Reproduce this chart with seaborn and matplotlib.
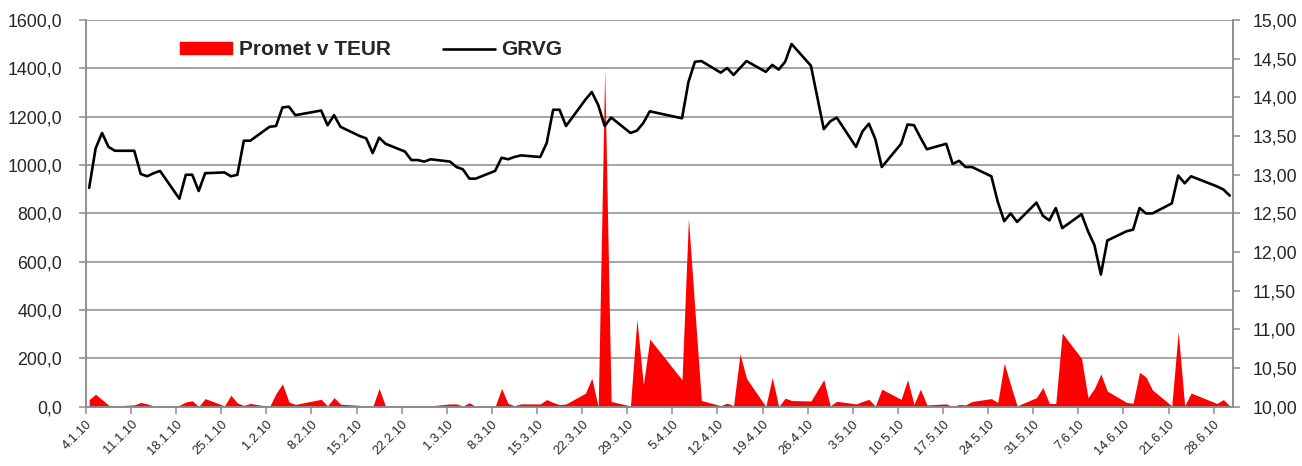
import pandas as pd
import numpy as np
import matplotlib
matplotlib.use('Agg')
import matplotlib.pyplot as plt
from matplotlib.ticker import FuncFormatter, MultipleLocator
from matplotlib.patches import Patch
from matplotlib.lines import Line2D
import seaborn as sns

# trading days (d.m. in 2010)
dates = ['4.1', '5.1', '6.1', '7.1', '8.1', '11.1', '12.1', '13.1', '14.1', '15.1',
         '18.1', '19.1', '20.1', '21.1', '22.1', '25.1', '26.1', '27.1', '28.1', '29.1',
         '1.2', '2.2', '3.2', '4.2', '5.2', '9.2', '10.2', '11.2', '12.2', '15.2',
         '16.2', '17.2', '18.2', '19.2', '22.2', '23.2', '24.2', '25.2', '26.2', '1.3',
         '2.3', '3.3', '4.3', '5.3', '8.3', '9.3', '10.3', '11.3', '12.3', '15.3',
         '16.3', '17.3', '18.3', '19.3', '22.3', '23.3', '24.3', '25.3', '26.3', '29.3',
         '30.3', '31.3', '1.4', '6.4', '7.4', '8.4', '9.4', '12.4', '13.4', '14.4',
         '15.4', '16.4', '19.4', '20.4', '21.4', '22.4', '23.4', '26.4', '28.4', '29.4',
         '30.4', '3.5', '4.5', '5.5', '6.5', '7.5', '10.5', '11.5', '12.5', '13.5',
         '14.5', '17.5', '18.5', '19.5', '20.5', '21.5', '24.5', '25.5', '26.5', '27.5',
         '28.5', '31.5', '1.6', '2.6', '3.6', '4.6', '7.6', '8.6', '9.6', '10.6',
         '11.6', '14.6', '15.6', '16.6', '17.6', '18.6', '21.6', '22.6', '23.6', '24.6',
         '28.6', '29.6', '30.6']

# closing price GRVG (right axis)
grvg = [12.83, 13.34, 13.54, 13.36, 13.31, 13.31, 13.01, 12.98, 13.02, 13.05,
        12.69, 13.00, 13.00, 12.79, 13.02, 13.03, 12.98, 13.00, 13.44, 13.44,
        13.62, 13.63, 13.87, 13.88, 13.77, 13.83, 13.64, 13.77, 13.62, 13.50,
        13.47, 13.28, 13.48, 13.40, 13.30, 13.19, 13.19, 13.17, 13.20, 13.17,
        13.10, 13.07, 12.95, 12.95, 13.05, 13.22, 13.20, 13.23, 13.25, 13.23,
        13.41, 13.84, 13.84, 13.63, 13.97, 14.07, 13.90, 13.63, 13.74, 13.54,
        13.57, 13.67, 13.82, 13.73, 14.20, 14.46, 14.47, 14.32, 14.38, 14.29,
        14.38, 14.47, 14.33, 14.42, 14.36, 14.46, 14.69, 14.41, 13.59, 13.69,
        13.74, 13.36, 13.56, 13.66, 13.46, 13.10, 13.40, 13.65, 13.64, 13.48,
        13.33, 13.40, 13.14, 13.18, 13.10, 13.10, 12.98, 12.65, 12.40, 12.50,
        12.39, 12.64, 12.47, 12.41, 12.57, 12.31, 12.49, 12.27, 12.09, 11.71,
        12.15, 12.27, 12.29, 12.57, 12.50, 12.50, 12.63, 12.99, 12.89, 12.98,
        12.85, 12.81, 12.73]

# turnover in thousand EUR (left axis)
promet = [30, 52, 30, 7, 4, 8, 18, 12, 4, 4,
          6, 20, 25, 1, 34, 4, 48, 16, 6, 14,
          1, 55, 95, 20, 10, 31, 4, 38, 11, 6,
          4, 0, 76, 1, 3, 4, 5, 3, 4, 12,
          12, 3, 17, 1, 1, 76, 14, 5, 12, 12,
          30, 18, 9, 12, 56, 118, 0, 1395, 22, 4,
          362, 91, 280, 112, 780, 400, 26, 5, 15, 5,
          219, 118, 1, 121, 1, 36, 26, 24, 112, 4,
          23, 12, 22, 31, 3, 73, 31, 112, 10, 73,
          8, 12, 1, 10, 8, 22, 34, 18, 180, 90,
          4, 38, 80, 14, 14, 305, 200, 38, 76, 136,
          65, 18, 15, 143, 123, 70, 4, 311, 4, 57,
          14, 30, 4]

df = pd.DataFrame({
    'datum': pd.to_datetime([d + '.2010' for d in dates], format='%d.%m.%Y') + pd.Timedelta(hours=12),
    'GRVG': grvg,
    'Promet': promet,
})

sns.set_style('white')
plt.rcParams['font.family'] = ['Liberation Sans', 'DejaVu Sans']

fig, ax = plt.subplots(figsize=(13.02, 4.66), dpi=100)
fig.subplots_adjust(left=0.066, right=0.947, top=0.957, bottom=0.127)
ax2 = ax.twinx()

grid_col = '#8c8c8c'

# area - Promet v TEUR
ax.fill_between(df['datum'], df['Promet'], 0, color='#ff0000', lw=0, zorder=2)
ax.set_ylim(0, 1600)
ax.yaxis.set_major_locator(MultipleLocator(200))
ax.yaxis.set_major_formatter(FuncFormatter(lambda v, p: f'{v:.1f}'.replace('.', ',')))
ax.grid(axis='y', color=grid_col, lw=1.1)
ax.set_axisbelow(True)

# line - GRVG
sns.lineplot(data=df, x='datum', y='GRVG', ax=ax2, color='black', lw=1.9)
ax2.set_ylim(10, 15)
ax2.yaxis.set_major_locator(MultipleLocator(0.5))
ax2.yaxis.set_major_formatter(FuncFormatter(lambda v, p: f'{v:.2f}'.replace('.', ',')))
ax2.set_ylabel('')
ax2.set_xlabel('')
ax.set_xlabel('')

x0 = pd.Timestamp('2010-01-04')
ax.set_xlim(x0, pd.Timestamp('2010-07-01'))
ticks = pd.date_range(x0, periods=26, freq='7D')
ax.set_xticks(ticks)
ax.set_xticklabels([f'{t.day}.{t.month}.10' for t in ticks], rotation=45, ha='right',
                   rotation_mode='anchor', fontsize=9.3)

for a in (ax, ax2):
    a.spines['top'].set_visible(False)
    for s in ('left', 'right', 'bottom'):
        a.spines[s].set_color(grid_col)
        a.spines[s].set_linewidth(1.1)
ax.tick_params(axis='y', length=5, color=grid_col, width=1.1, labelsize=12.8, pad=12, left=True)
ax.tick_params(axis='x', length=5, color=grid_col, width=1.1, pad=3, bottom=True)
ax2.tick_params(axis='y', length=5, color=grid_col, width=1.1, labelsize=12.8, pad=9, right=True)

handles = [Patch(color='#ff0000'), Line2D([], [], color='black', lw=1.9)]
fig.legend(handles, ['Promet v TEUR', 'GRVG'], loc='center', bbox_to_anchor=(0.285, 0.893),
           ncol=2, frameon=False, prop={'weight': 'bold', 'size': 15},
           handlelength=2.5, handleheight=0.5, columnspacing=2.5, handletextpad=0.3)

fig.savefig('out.png', dpi=100)
